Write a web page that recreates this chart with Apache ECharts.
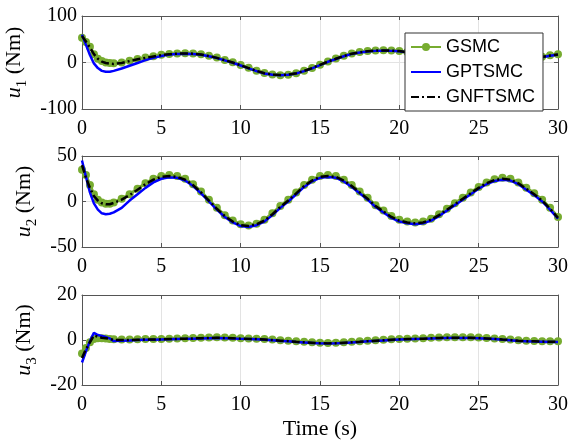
<!DOCTYPE html>
<html>
<head>
<meta charset="utf-8">
<script src="https://cdn.jsdelivr.net/npm/echarts@6/dist/echarts.min.js"></script>
<style>html,body{margin:0;padding:0;background:#fff;}#c{width:569px;height:443px;}</style>
</head>
<body>
<div id="c"></div>
<script>
// time samples (s)
const time = [0,0.25,0.5,0.75,1,1.25,1.5,1.75,2,2.5,3,3.5,4,4.5,5,5.5,6,6.5,7,7.5,8,8.5,9,9.5,10,10.5,11,11.5,12,12.5,13,13.5,14,14.5,15,15.5,16,16.5,17,17.5,18,18.5,19,19.5,20,20.5,21,21.5,22,22.5,23,23.5,24,24.5,25,25.5,26,26.5,27,27.5,28,28.5,29,29.5,30];

const seriesNames = ['GSMC','GPTSMC','GNFTSMC'];

// u1 (Nm)
const u1_GSMC = [53,44,34,18,8,3,0,-1,-1.5,0,3.5,7.5,10.5,13.5,16.5,18.5,19.5,20,19.5,17.5,14.5,10.5,5.5,0.5,-5.5,-11.5,-17.5,-22.5,-26,-27.5,-26.5,-23,-18,-12,-5,2,8.5,14.5,19.5,22.5,24.5,26,26.5,26,25,22.5,19.5,15.5,10.5,4.5,-0.5,-5.5,-8.5,-10.5,-11.5,-11.5,-9.5,-6.5,-2.5,1.5,5.5,9.5,12.5,15.5,17.5];
const u1_GPTSMC = [60,38,16,-2,-12,-18,-20,-20,-18,-13,-7,-1,5,10,14,17,18.5,19,18.5,16.5,13.5,9.5,4.5,-0.5,-6.5,-12.5,-18.5,-23.5,-26.5,-27.5,-26.5,-23.5,-18.5,-12.5,-5.5,1.5,7.5,13.5,18.5,21.5,23.5,25,25.5,25,24,21.5,18.5,14.5,9.5,3.5,-1.5,-6.5,-9.5,-11.5,-12.5,-12.5,-10.5,-7.5,-3.5,0.5,4.5,8.5,11.5,14.5,16.5];
const u1_GNFTSMC = [57,45,32,18,8,2,-1,-2.5,-3,-1,3,7,10,13,16,18,19,19.5,19,17,14,10,5,0,-6,-12,-18,-23,-26,-27,-26,-23,-18,-12,-5,2,8,14,19,22,24,25.5,26,25.5,24.5,22,19,15,10,4,-1,-6,-9,-11,-12,-12,-10,-7,-3,1,5,9,12,15,17];

// u2 (Nm)
const u2_GSMC = [35,29,18,8,2,-1,-2.5,-2.5,-1,3,8,14,20,25,28,29,28,25,19,11,2,-7,-15,-21,-25,-26.5,-24.5,-20,-13,-5,2,10,18,24,28,29,28,24,18,11,4,-4,-10,-16,-20,-22,-23,-22,-19,-14,-8,-2,4,10,16,21,24.5,26,25,21,15,9,2,-7,-17];
const u2_GPTSMC = [45,27,10,-2,-9,-13,-14,-13.5,-12,-7,1,8,15,21,25,26.5,26,23,17,9,0,-9,-17,-23,-27,-28,-26,-22,-15,-7,0,8,16,22,26,27,26,22,16,9,2,-6,-12,-18,-22,-24,-25,-24,-21,-16,-10,-4,2,8,14,19,22.5,24,23,19,13,7,0,-9,-19];
const u2_GNFTSMC = [40,26,15,6,1,-2,-3,-3,-1.5,2,7,13,19,24,27,28,27,24,18,10,1,-8,-16,-22,-26,-27,-25,-21,-14,-6,1,9,17,23,27,28,27,23,17,10,3,-5,-11,-17,-21,-23,-24,-23,-20,-15,-9,-3,3,9,15,20,23.5,25,24,20,14,8,1,-8,-18];

// u3 (Nm)
const u3_GSMC = [-6,-3.5,-1,0.5,0.8,0.8,0.7,0.5,0.3,0.2,0.2,0.3,0.4,0.4,0.5,0.6,0.7,0.8,0.9,1,1.1,1.2,1.1,1,0.8,0.7,0.6,0.4,0.2,-0.1,-0.3,-0.6,-0.8,-1,-1.2,-1.3,-1.2,-1,-0.8,-0.6,-0.3,-0.1,0.1,0.3,0.5,0.6,0.7,0.8,1,1.1,1.2,1.2,1.2,1.2,1.1,0.9,0.7,0.4,0.2,-0.1,-0.3,-0.4,-0.5,-0.6,-0.6];
const u3_GPTSMC = [-10,-5,-0.5,3.2,2.2,1.8,1.3,0.7,-0.5,-0.3,-0.2,0,0.1,0.1,0.2,0.3,0.4,0.5,0.6,0.7,0.8,0.9,0.8,0.7,0.5,0.4,0.3,0.1,-0.1,-0.4,-0.6,-0.9,-1.1,-1.3,-1.5,-1.6,-1.5,-1.3,-1.1,-0.9,-0.6,-0.4,-0.2,0,0.2,0.3,0.4,0.5,0.7,0.8,0.9,0.9,0.9,0.9,0.8,0.6,0.4,0.1,-0.1,-0.4,-0.6,-0.7,-0.8,-0.9,-0.9];
const u3_GNFTSMC = [-8,-4,-1,2,1.5,1,0.8,0.5,0,0,0,0.1,0.2,0.2,0.3,0.4,0.5,0.6,0.7,0.8,0.9,1,0.9,0.8,0.6,0.5,0.4,0.2,0,-0.3,-0.5,-0.8,-1,-1.2,-1.4,-1.5,-1.4,-1.2,-1,-0.8,-0.5,-0.3,-0.1,0.1,0.3,0.4,0.5,0.6,0.8,0.9,1,1,1,1,0.9,0.7,0.5,0.2,0,-0.3,-0.5,-0.6,-0.7,-0.8,-0.8];

// axis ranges / ticks
const xTicks = {min:0, max:30, interval:5};
const yRanges = [{min:-100,max:100,interval:100},{min:-50,max:50,interval:50},{min:-20,max:20,interval:20}];
const yNames = ['{i|u}{s|1} (Nm)','{i|u}{s|2} (Nm)','{i|u}{s|3} (Nm)'];
const xName = 'Time (s)';

const panels = [
  [u1_GSMC,u1_GPTSMC,u1_GNFTSMC],
  [u2_GSMC,u2_GPTSMC,u2_GNFTSMC],
  [u3_GSMC,u3_GPTSMC,u3_GNFTSMC]
];

const serif = 'Liberation Serif';
const axisColor = '#555';
const grids = [
  {left:82, top:16, width:476, height:93, outerBoundsMode:'none', containLabel:false},
  {left:82, top:156, width:476, height:91, outerBoundsMode:'none', containLabel:false},
  {left:82, top:295, width:476, height:90, outerBoundsMode:'none', containLabel:false}
];
const nameGaps = [46, 35, 35];

const xAxis = [], yAxis = [], series = [];
grids.forEach((g, p) => {
  xAxis.push({
    gridIndex:p, type:'value', position:'bottom', min:xTicks.min, max:xTicks.max, interval:xTicks.interval,
    axisLine:{show:true, onZero:false, lineStyle:{color:axisColor, width:1}},
    axisTick:{show:true, inside:true, length:4, lineStyle:{color:axisColor}},
    axisLabel:{fontFamily:serif, fontSize:20, color:'#000', margin:10},
    splitLine:{show:true, lineStyle:{color:'#e3e3e3', width:1}},
    name: p === 2 ? xName : '', nameLocation:'middle', nameGap:33,
    nameTextStyle:{fontFamily:serif, fontSize:22, color:'#000'}
  });
  xAxis.push({
    gridIndex:p, type:'value', position:'top', min:xTicks.min, max:xTicks.max, interval:xTicks.interval,
    axisLine:{show:true, onZero:false, lineStyle:{color:axisColor, width:1}},
    axisTick:{show:true, inside:true, length:4, lineStyle:{color:axisColor}},
    axisLabel:{show:false}, splitLine:{show:false}
  });
  const r = yRanges[p];
  yAxis.push({
    gridIndex:p, type:'value', position:'left', min:r.min, max:r.max, interval:r.interval,
    axisLine:{show:true, onZero:false, lineStyle:{color:axisColor, width:1}},
    axisTick:{show:true, inside:true, length:4, lineStyle:{color:axisColor}},
    axisLabel:{fontFamily:serif, fontSize:20, color:'#000', margin:5},
    splitLine:{show:true, lineStyle:{color:'#e3e3e3', width:1}},
    name:yNames[p], nameLocation:'middle', nameRotate:90, nameGap:nameGaps[p],
    nameTextStyle:{fontFamily:serif, fontSize:22, color:'#000',
      rich:{
        i:{fontFamily:serif, fontStyle:'italic', fontSize:22, color:'#000'},
        s:{fontFamily:serif, fontSize:15, color:'#000', verticalAlign:'bottom', lineHeight:30}
      }}
  });
  yAxis.push({
    gridIndex:p, type:'value', position:'right', min:r.min, max:r.max, interval:r.interval,
    axisLine:{show:true, onZero:false, lineStyle:{color:axisColor, width:1}},
    axisTick:{show:true, inside:true, length:4, lineStyle:{color:axisColor}},
    axisLabel:{show:false}, splitLine:{show:false}
  });
  const d = panels[p];
  const mk = arr => time.map((t, i) => [t, arr[i]]);
  series.push({
    name:seriesNames[0], type:'line', xAxisIndex:2*p, yAxisIndex:2*p, data:mk(d[0]),
    symbol:'circle', symbolSize:8, showSymbol:true,
    lineStyle:{color:'#77AC30', width:3}, itemStyle:{color:'#77AC30'}, z:2
  });
  series.push({
    name:seriesNames[1], type:'line', xAxisIndex:2*p, yAxisIndex:2*p, data:mk(d[1]),
    symbol:'none', showSymbol:false,
    lineStyle:{color:'#0000FF', width:2.5}, itemStyle:{color:'#0000FF'}, z:3
  });
  series.push({
    name:seriesNames[2], type:'line', xAxisIndex:2*p, yAxisIndex:2*p, data:mk(d[2]),
    symbol:'none', showSymbol:false,
    lineStyle:{color:'#000', width:2.5, type:[8,3,2,3]}, itemStyle:{color:'#000'}, z:4
  });
});

const chart = echarts.init(document.getElementById('c'), null, {renderer:'canvas'});
chart.setOption({
  animation:false,
  backgroundColor:'#fff',
  grid:grids,
  xAxis, yAxis, series,
  legend:{
    data:[
      {name:seriesNames[0]},
      {name:seriesNames[1], itemStyle:{opacity:0}},
      {name:seriesNames[2], itemStyle:{opacity:0}}
    ],
    orient:'vertical', left:405, top:33,
    itemWidth:30, itemHeight:10, itemGap:7,
    padding:[5,8,5,5],
    backgroundColor:'#fff', borderColor:'#333', borderWidth:1, borderRadius:0,
    textStyle:{fontFamily:'Liberation Sans', fontSize:18, color:'#000'},
    z:10
  }
});
</script>
</body>
</html>
